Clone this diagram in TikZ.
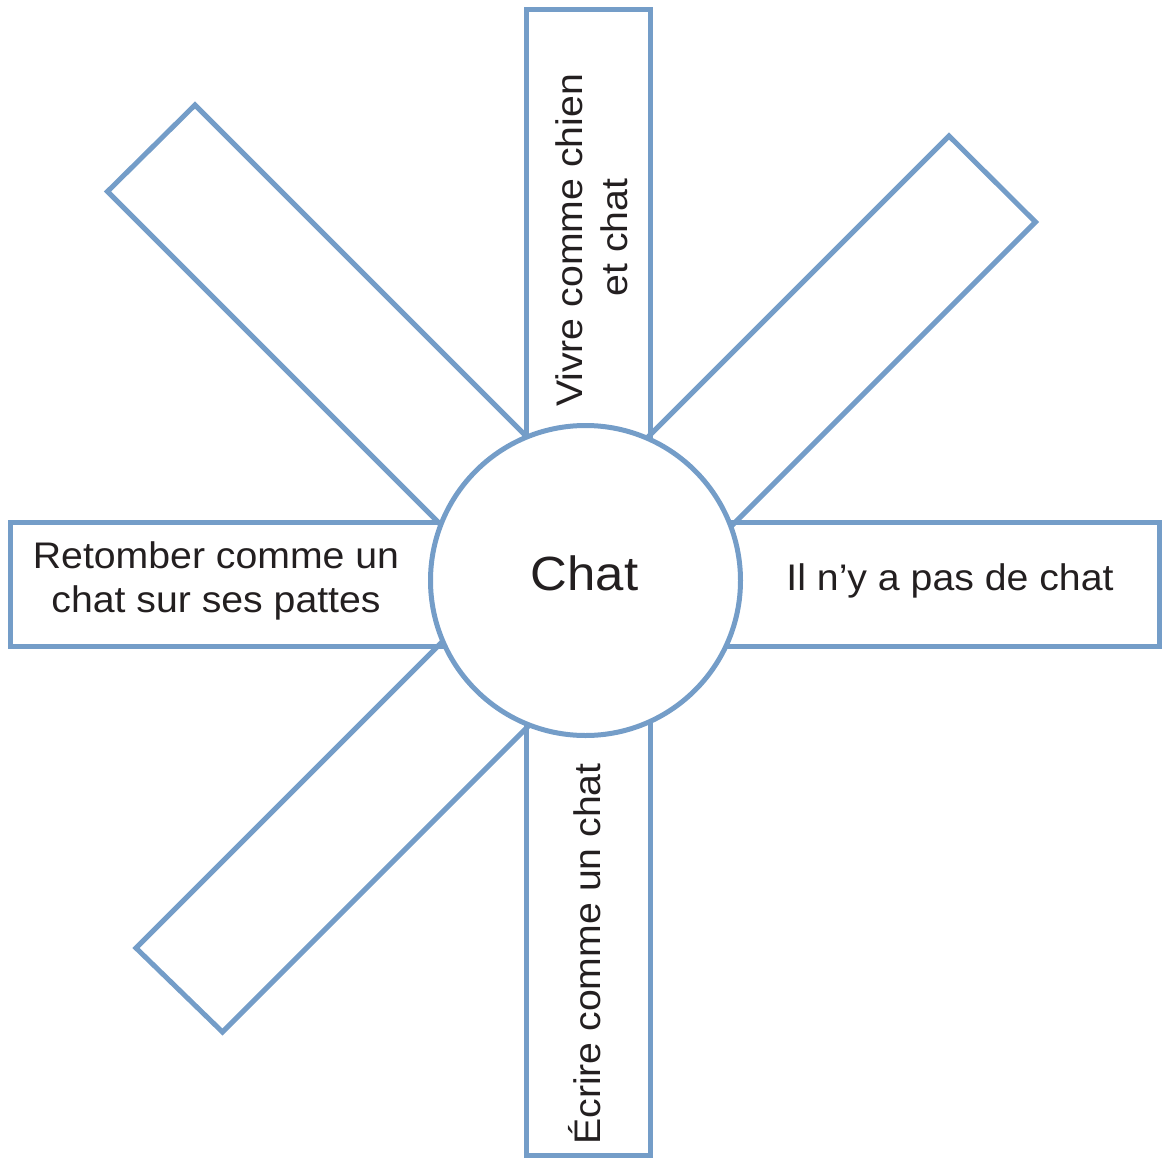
\documentclass[tikz,border=0pt]{standalone}
\usepackage{fontspec}
\setmainfont{Liberation Sans}[FakeStretch=1.06]
\definecolor{barblue}{RGB}{116,157,200}
\definecolor{ink}{RGB}{35,31,32}
\begin{document}
\begin{tikzpicture}[x=1pt,y=-1pt,
  bar/.style={draw=barblue,line width=5pt,line join=miter},
  hub/.style={draw=barblue,fill=white,line width=5pt},
  lbl/.style={inner sep=0pt,anchor=base,text=ink,font=\fontsize{37}{44}\selectfont},
  hublbl/.style={inner sep=0pt,anchor=base,text=ink,font=\fontsize{48}{58}\selectfont}]
\useasboundingbox (0,0) rectangle (1162,1159);
% bars
\draw[bar] (526.3,9) rectangle (650.3,600);
\draw[bar] (526.3,560) rectangle (650.3,1155.5);
\draw[bar] (10,522.5) rectangle (600,646.5);
\draw[bar] (570,522.5) rectangle (1159,646.5);
\draw[bar] (527.5,611.5) -- (107.5,191.5) -- (195,105) -- (615,525);
\draw[bar] (529,556) -- (949,136) -- (1035.5,222) -- (615.5,642);
\draw[bar] (556,528) -- (136,948) -- (222.5,1032) -- (642.5,612);
% hub
\node[hub,circle,minimum size=310pt,inner sep=0pt] (hubc) at (585.5,580.5) {};
\node[hublbl] (chat) at (584.5,590) {Chat};
% labels
\node[lbl,rotate=90] (top1) at (582,240.5) {Vivre comme chien};
\node[lbl,rotate=90] (top2) at (627,237.5) {et chat};
\node[lbl,rotate=90] (bot) at (600,954) {Écrire comme un chat};
\node[lbl] (left1) at (216,568) {Retomber comme un};
\node[lbl] (left2) at (216,612) {chat sur ses pattes};
\node[lbl] (right) at (950,590) {Il n’y a pas de chat};
\end{tikzpicture}
\end{document}
